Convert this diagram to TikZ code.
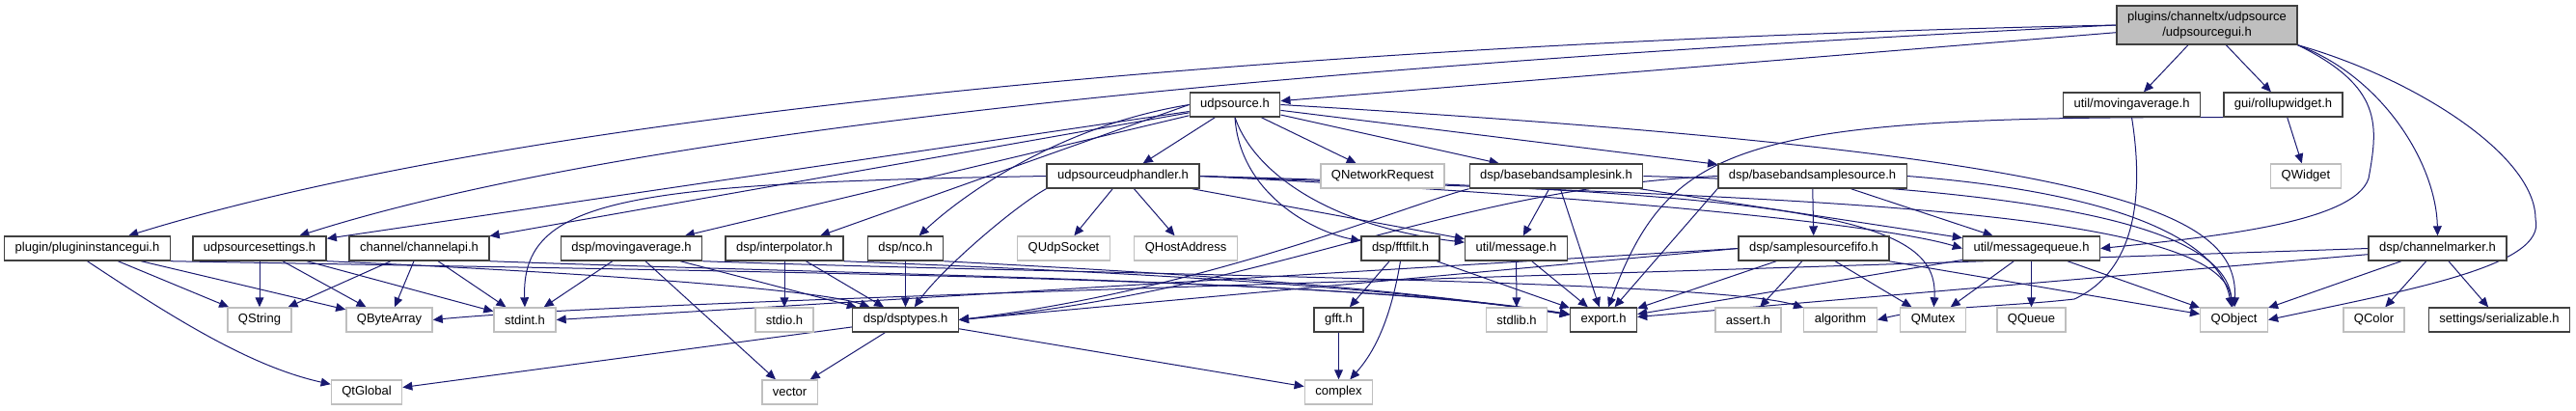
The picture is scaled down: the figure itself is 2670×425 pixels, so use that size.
\documentclass[tikz,border=0pt]{standalone}
\usepackage{fontspec}
\setmainfont{Liberation Sans}
\usetikzlibrary{arrows.meta,backgrounds}
\definecolor{depblue}{RGB}{25,25,112}

\begin{document}
\begin{tikzpicture}[x=0.5pt,y=-0.5pt,>={Triangle[length=5pt,width=4.4pt]},
	every node/.style={font=\fontsize{6.5}{8}\selectfont,inner xsep=5.5pt,inner ysep=0pt,minimum height=12.5pt,line width=0.7pt,fill=white},
	hdr/.style={draw=black!75},
	sys/.style={draw=black!25},
	mainhdr/.style={draw=black!75,fill=black!25,align=center,minimum height=20pt},
	dep/.style={->,draw=depblue,line width=0.5pt}]
	\useasboundingbox (0,0) rectangle (2670,425);
	% rows of the include graph
	\node[mainhdr] (root) at (2287.5,26) {plugins/channeltx/udpsource\\/udpsourcegui.h};
	\node[hdr] (um) at (2209.5,108.5) {util/movingaverage.h};
	\node[hdr] (rw) at (2366.5,108.5) {gui/rollupwidget.h};
	\node[hdr] (us) at (1280,108.5) {udpsource.h};
	\node[sys] (qw) at (2390,182.5) {QWidget};
	\node[hdr] (uh) at (1164,182.5) {udpsourceudphandler.h};
	\node[sys] (qnr) at (1433,182.5) {QNetworkRequest};
	\node[hdr] (bsk) at (1613,182.5) {dsp/basebandsamplesink.h};
	\node[hdr] (bso) at (1878.5,182.5) {dsp/basebandsamplesource.h};
	\node[hdr] (pig) at (90.5,257.5) {plugin/plugininstancegui.h};
	\node[hdr] (uss) at (269,257.5) {udpsourcesettings.h};
	\node[hdr] (capi) at (434.5,257.5) {channel/channelapi.h};
	\node[hdr] (dma) at (654.5,257.5) {dsp/movingaverage.h};
	\node[hdr] (itp) at (813,257.5) {dsp/interpolator.h};
	\node[hdr] (nco) at (938.5,257.5) {dsp/nco.h};
	\node[sys] (qus) at (1102.5,257.5) {QUdpSocket};
	\node[sys] (qha) at (1229,257.5) {QHostAddress};
	\node[hdr] (fft) at (1451.5,257.5) {dsp/fftfilt.h};
	\node[hdr] (msg) at (1571.5,257.5) {util/message.h};
	\node[hdr] (ssf) at (1880,257.5) {dsp/samplesourcefifo.h};
	\node[hdr] (mq) at (2105.5,257.5) {util/messagequeue.h};
	\node[hdr] (cm) at (2526.5,257.5) {dsp/channelmarker.h};
	\node[sys] (qs) at (269,331.5) {QString};
	\node[sys] (qba) at (403.5,331.5) {QByteArray};
	\node[sys] (sint) at (544,331.5) {stdint.h};
	\node[sys] (sio) at (813,331.5) {stdio.h};
	\node[hdr] (dt) at (938.5,331.5) {dsp/dsptypes.h};
	\node[hdr] (gf) at (1387.5,331.5) {gfft.h};
	\node[sys] (slib) at (1572,331.5) {stdlib.h};
	\node[hdr] (ex) at (1662,331.5) {export.h};
	\node[sys] (as) at (1812,331.5) {assert.h};
	\node[sys] (alg) at (1907.5,331.5) {algorithm};
	\node[sys] (qm) at (2003.5,331.5) {QMutex};
	\node[sys] (qq) at (2105.5,331.5) {QQueue};
	\node[sys] (qo) at (2315.5,331.5) {QObject};
	\node[sys] (qc) at (2460.5,331.5) {QColor};
	\node[hdr] (ser) at (2590.5,331.5) {settings/serializable.h};
	\node[sys] (qtg) at (380,406.5) {QtGlobal};
	\node[sys] (vec) at (818.5,406.5) {vector};
	\node[sys] (cx) at (1387.5,406.5) {complex};

	\begin{scope}[on background layer]
	% udpsourcegui.h
	\draw[dep] (root.west) .. controls (1500,40) and (600,100) .. (pig);
	\draw[dep] (root.west) .. controls (1500,60) and (700,120) .. (uss);
	\draw[dep] (root) -- (us);
	\draw[dep] (root) -- (um);
	\draw[dep] (root) -- (rw);
	\draw[dep] (root.south east) .. controls (2470,90) and (2465,130) .. (2455,185) .. controls (2440,230) and (2300,245) .. (mq.east);
	\draw[dep] (root.south east) .. controls (2470,80) and (2525,170) .. (cm.north);
	\draw[dep] (root.south east) .. controls (2500,80) and (2628,160) .. (2628,227) .. controls (2640,275) and (2500,300) .. (qo.east);
	% udpsource.h
	\draw[dep] (us) -- (uss);
	\draw[dep] (us) -- (capi);
	\draw[dep] (us) -- (dma);
	\draw[dep] (us.west) -- (itp);
	\draw[dep] (us.west) .. controls (1100,130) and (1000,200) .. (nco);
	\draw[dep] (us) -- (uh);
	\draw[dep] (us) -- (qnr);
	\draw[dep] (us) -- (bsk);
	\draw[dep] (us) -- (bso);
	\draw[dep] (us.south) .. controls (1285,200) and (1360,240) .. (fft);
	\draw[dep] (us.south) .. controls (1300,180) and (1380,235) .. (msg);
	\draw[dep] (us.east) .. controls (2200,160) and (2320,220) .. (qo);
	% udpsourceudphandler.h
	\draw[dep] (uh.west) .. controls (650,190) and (540,205) .. (sint.north);
	\draw[dep] (uh.south west) .. controls (1050,215) and (975,280) .. (dt);
	\draw[dep] (uh) -- (qus);
	\draw[dep] (uh) -- (qha);
	\draw[dep] (uh) -- (msg);
	\draw[dep] (uh.east) .. controls (1700,205) and (1960,235) .. (mq.west);
	\draw[dep] (uh.east) .. controls (1900,200) and (2010,230) .. (qm);
	\draw[dep] (uh.east) .. controls (1800,205) and (2300,210) .. (qo);
	% left part
	\draw[dep] (pig) -- (qs);
	\draw[dep] (pig) -- (qba);
	\draw[dep] (pig.south) .. controls (180,330) and (260,380) .. (qtg);
	\draw[dep] (pig.south east) .. controls (800,282) and (1400,288) .. (ex);
	\draw[dep] (uss) -- (qs);
	\draw[dep] (uss) -- (qba);
	\draw[dep] (uss) -- (sint);
	\draw[dep] (uss.south east) .. controls (600,282) and (850,300) .. (dt);
	\draw[dep] (capi) -- (qs);
	\draw[dep] (capi) -- (qba);
	\draw[dep] (capi) -- (sint);
	\draw[dep] (capi.south east) .. controls (900,285) and (1400,290) .. (ex);
	\draw[dep] (dma) -- (sint);
	\draw[dep] (dma) -- (vec);
	\draw[dep] (dma) -- (dt);
	\draw[dep] (dma.south east) .. controls (1100,284) and (1780,290) .. (alg);
	\draw[dep] (itp) -- (sio);
	\draw[dep] (itp) -- (dt);
	\draw[dep] (itp.south east) .. controls (1100,280) and (1400,292) .. (ex);
	\draw[dep] (nco) -- (dt);
	\draw[dep] (nco.south east) .. controls (1150,280) and (1400,292) .. (ex);
	\draw[dep] (dt) -- (qtg);
	\draw[dep] (dt) -- (vec);
	\draw[dep] (dt) -- (cx);
	\draw[dep] (gf) -- (cx);
	\draw[dep] (fft) -- (gf);
	\draw[dep] (fft.south) .. controls (1440,340) and (1420,370) .. (cx);
	\draw[dep] (fft) -- (ex);
	\draw[dep] (msg) -- (slib);
	\draw[dep] (msg) -- (ex);
	% sample sink / source
	\draw[dep] (bsk.south west) .. controls (1450,215) and (1250,300) .. (dt.east);
	\draw[dep] (bsk) -- (msg);
	\draw[dep] (bsk) -- (ex);
	\draw[dep] (bsk) -- (mq);
	\draw[dep] (bsk.east) .. controls (2150,195) and (2305,240) .. (qo);
	\draw[dep] (bso) -- (ssf);
	\draw[dep] (bso) -- (mq);
	\draw[dep] (bso.west) .. controls (1500,195) and (1320,300) .. (dt.east);
	\draw[dep] (bso.south west) -- (ex);
	\draw[dep] (bso.east) .. controls (2200,200) and (2300,250) .. (qo);
	\draw[dep] (ssf) -- (as);
	\draw[dep] (ssf) -- (qm);
	\draw[dep] (ssf) -- (ex);
	\draw[dep] (ssf.west) -- (sint.east);
	\draw[dep] (ssf.west) -- (dt.east);
	\draw[dep] (ssf) -- (qo);
	\draw[dep] (mq) -- (qm);
	\draw[dep] (mq) -- (qq);
	\draw[dep] (mq) -- (qo);
	\draw[dep] (mq) -- (ex);
	% right part
	\draw[dep] (rw) -- (qw);
	\draw[dep] (rw.south west) .. controls (1800,120) and (1730,150) .. (ex);
	\draw[dep] (um.south) .. controls (2222,200) and (2215,280) .. (2150,310) .. controls (2080,318) and (2000,318) .. (alg.east);
	\draw[dep] (cm) -- (qo);
	\draw[dep] (cm) -- (qc);
	\draw[dep] (cm) -- (ser);
	\draw[dep] (cm) -- (ex);
	\draw[dep] (cm.west) .. controls (1500,290) and (650,312) .. (qba.east);
	\end{scope}
\end{tikzpicture}
\end{document}
